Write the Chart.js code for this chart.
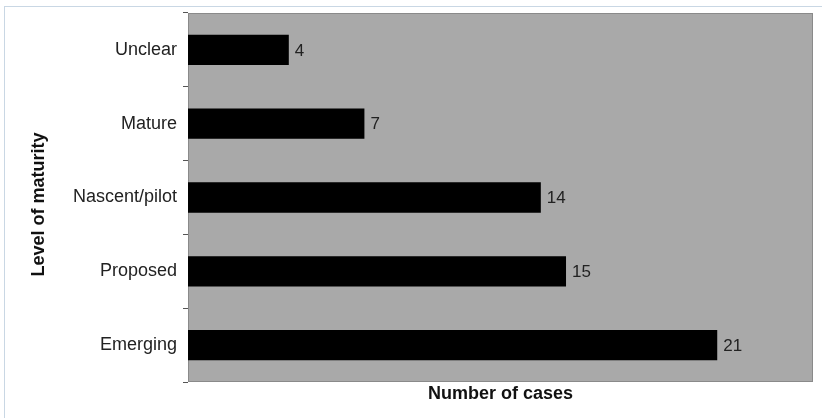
<!DOCTYPE html>
<html>
<head>
<meta charset="utf-8">
<script src="https://cdn.jsdelivr.net/npm/chart.js@4"></script>
<style>
  html, body { margin: 0; padding: 0; background: #fff; overflow: hidden; }
  #wrap { position: relative; width: 822px; height: 418px; }
  #frame { position: absolute; left: 4px; top: 6px; width: 840px; height: 440px;
           border: 1px solid #c9d7e4; box-sizing: border-box; }
  canvas { position: absolute; left: 0; top: 0; }
</style>
</head>
<body>
<div id="wrap">
  <div id="frame"></div>
  <canvas id="chart" width="822" height="418"></canvas>
</div>
<script>
// Maturity levels, listed top to bottom
const categories = ['Unclear', 'Mature', 'Nascent/pilot', 'Proposed', 'Emerging'];
// Number of cases at each level
const caseCounts = [4, 7, 14, 15, 21];
// Axis titles
const xTitle = 'Number of cases';
const yTitle = 'Level of maturity';

const FONT = '"Liberation Sans", Arial, Helvetica, sans-serif';

// Grey plot background with a thin darker frame
const plotBackground = {
  id: 'plotBackground',
  beforeDraw(chart) {
    const { ctx, chartArea: a } = chart;
    ctx.save();
    ctx.fillStyle = '#a9a9a9';
    ctx.fillRect(a.left, a.top, a.right - a.left, a.bottom - a.top);
    ctx.strokeStyle = '#8a8a8a';
    ctx.lineWidth = 1;
    ctx.strokeRect(a.left + 0.5, a.top + 0.5, a.right - a.left - 1, a.bottom - a.top - 1);
    ctx.restore();
  }
};

// Value printed just past the end of each bar
const valueLabels = {
  id: 'valueLabels',
  afterDatasetsDraw(chart) {
    const { ctx } = chart;
    const meta = chart.getDatasetMeta(0);
    const values = chart.data.datasets[0].data;
    ctx.save();
    ctx.font = '17px ' + FONT;
    ctx.fillStyle = '#222';
    ctx.textAlign = 'left';
    ctx.textBaseline = 'middle';
    meta.data.forEach((bar, i) => {
      ctx.fillText(String(values[i]), bar.x + 6, bar.y + 1);
    });
    ctx.restore();
  }
};

// Rotated title for the category axis, set a little below the plot's middle
const categoryTitle = {
  id: 'categoryTitle',
  afterDraw(chart) {
    const { ctx, chartArea: a } = chart;
    ctx.save();
    ctx.translate(39, (a.top + a.bottom) / 2 + 7);
    ctx.rotate(-Math.PI / 2);
    ctx.font = 'bold 18px ' + FONT;
    ctx.fillStyle = '#111';
    ctx.textAlign = 'center';
    ctx.textBaseline = 'middle';
    ctx.fillText(yTitle, 0, 0);
    ctx.restore();
  }
};

new Chart(document.getElementById('chart'), {
  type: 'bar',
  data: {
    labels: categories,
    datasets: [{
      data: caseCounts,
      backgroundColor: '#000',
      borderWidth: 0,
      barPercentage: 0.41,
      categoryPercentage: 1.0
    }]
  },
  options: {
    indexAxis: 'y',
    responsive: false,
    animation: false,
    layout: { padding: { top: 13, right: 9, left: 0, bottom: 0 } },
    plugins: {
      legend: { display: false },
      tooltip: { enabled: false }
    },
    scales: {
      x: {
        min: 0,
        max: 24.8,
        ticks: { display: false },
        grid: { display: false },
        border: { display: false },
        title: {
          display: true,
          text: xTitle,
          color: '#111',
          font: { family: FONT, size: 18, weight: 'bold' },
          padding: { top: 0, bottom: 13 }
        },
        afterFit(scale) { scale.height = 36; }
      },
      y: {
        ticks: {
          color: '#222',
          font: { family: FONT, size: 18 },
          padding: 6
        },
        grid: {
          drawOnChartArea: false,
          drawTicks: true,
          tickLength: 5,
          color: '#555'
        },
        border: { display: false },
        title: { display: false },
        afterFit(scale) {
          scale.width = 188;
          scale.paddingTop = 0;
          scale.paddingBottom = 0;
        }
      }
    }
  },
  plugins: [plotBackground, valueLabels, categoryTitle]
});
</script>
</body>
</html>
